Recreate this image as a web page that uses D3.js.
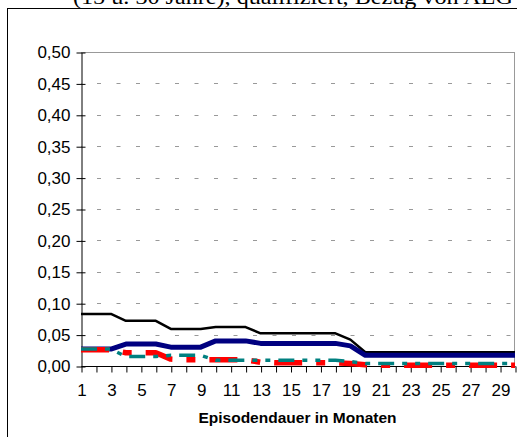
<!DOCTYPE html>
<html><head><meta charset="utf-8">
<script src="https://cdn.jsdelivr.net/npm/d3@7"></script>
<style>body{margin:0;background:#fff}svg{display:block}</style>
</head><body>
<svg id="c" width="517" height="437"></svg>
<script>
const months = d3.range(1, 31);
const xTickLabels = [1,3,5,7,9,11,13,15,17,19,21,23,25,27,29];
const yTicks = [0,0.05,0.10,0.15,0.20,0.25,0.30,0.35,0.40,0.45,0.50];
const seriesBlack = [0.083,0.083,0.083,0.072,0.072,0.072,0.059,0.059,0.059,0.062,0.062,0.062,0.052,0.052,0.052,0.052,0.052,0.052,0.042,0.022,0.022,0.022,0.022,0.022,0.022,0.022,0.022,0.022,0.022,0.022];
const seriesNavy  = [0.027,0.027,0.027,0.035,0.035,0.035,0.030,0.030,0.030,0.040,0.040,0.040,0.036,0.036,0.036,0.036,0.036,0.036,0.032,0.017,0.017,0.017,0.017,0.017,0.017,0.017,0.017,0.017,0.017,0.017];
const seriesRed   = [0.026,0.026,0.026,0.021,0.021,0.021,0.011,0.010,0.010,0.010,0.010,0.010,0.006,0.005,0.005,0.005,0.005,0.005,0.004,0.002,0.001,0.001,0.001,0.001,0.001,0.001,0.001,0.001,0.001,0.001];
const seriesTeal  = [0.027,0.027,0.027,0.015,0.015,0.015,0.017,0.017,0.017,0.009,0.009,0.009,0.009,0.009,0.009,0.009,0.009,0.009,0.007,0.004,0.004,0.004,0.004,0.004,0.004,0.004,0.004,0.004,0.004,0.004];
const titleText = "(15 u. 30 Jahre), qualifiziert, Bezug von ALG";
const xTitle = "Episodendauer in Monaten";

const svg = d3.select("#c");
const x = d3.scaleLinear().domain([1,30]).range([81,515]);
const y = d3.scaleLinear().domain([0,0.5]).range([366,52]);
const fmt = v => d3.format(".2f")(v).replace(".", ",");

// partial title and frame
svg.append("text").attr("x",73).attr("y",4).attr("font-family","Liberation Serif, Times New Roman, serif")
  .attr("font-size",20).attr("textLength",440).attr("lengthAdjust","spacingAndGlyphs").text(titleText);
svg.append("line").attr("x1",7.5).attr("x2",517).attr("y1",8.5).attr("y2",8.5).attr("stroke","#000").attr("stroke-width",1);
svg.append("line").attr("x1",7.5).attr("x2",7.5).attr("y1",8).attr("y2",437).attr("stroke","#000").attr("stroke-width",1);

// plot border (gray)
svg.append("line").attr("x1",x(1)).attr("x2",x(30)).attr("y1",y(0.5)+0.5).attr("y2",y(0.5)+0.5).attr("stroke","#999");
svg.append("line").attr("x1",x(30)-0.5).attr("x2",x(30)-0.5).attr("y1",y(0.5)).attr("y2",y(0)).attr("stroke","#999");

// gridlines
svg.append("g").selectAll("line").data(yTicks.filter(d=>d>0)).join("line")
  .attr("x1",x(1)).attr("x2",x(30)).attr("y1",d=>Math.round(y(d))+0.5).attr("y2",d=>Math.round(y(d))+0.5)
  .attr("stroke","#999").attr("stroke-width",1).attr("stroke-dasharray","4,15.5").attr("stroke-dashoffset",-16);

// axes
const yAxis = d3.axisLeft(y).tickValues(yTicks).tickFormat(fmt).tickSizeInner(5).tickSizeOuter(0).tickPadding(6);
const gy = svg.append("g").attr("transform","translate(81.5,0.5)").call(yAxis);
gy.selectAll(".tick line").attr("x2",4).attr("x1",-5);
const xAxis = d3.axisBottom(x).tickValues(months).tickFormat(d=>xTickLabels.includes(d)?d:"").tickSizeInner(6).tickSizeOuter(0).tickPadding(11);
const gx = svg.append("g").attr("transform","translate(0.5,366.5)").call(xAxis);
[gy,gx].forEach(g=>{
  g.select(".domain").attr("stroke","#000");
  g.selectAll(".tick line").attr("stroke","#000");
  g.selectAll("text").attr("font-family","Liberation Sans, Arial, sans-serif").attr("font-size",17).attr("fill","#000");
});
gx.select(".domain").attr("d",`M${x(1)},0H${x(30)}`);

svg.append("text").attr("x",297.5).attr("y",423).attr("text-anchor","middle")
  .attr("font-family","Liberation Sans, Arial, sans-serif").attr("font-size",15.5).attr("font-weight","bold").text(xTitle);

// series
const line = d3.line().x((d,i)=>x(months[i])).y(d=>y(d));
const series = [
  {vals: seriesBlack, color:"#000000", w:2.5, dash:null},
  {vals: seriesNavy, color:"#000080", w:5, dash:null},
  {vals: seriesRed, color:"#ff0000", w:5.5, dash:"28,14,9,14"},
  {vals: seriesTeal, color:"#008080", w:3.5, dash:"16,8,5,8,5,8"}
];
svg.append("g").selectAll("path").data(series).join("path")
  .attr("d",d=>line(d.vals)).attr("fill","none").attr("stroke",d=>d.color)
  .attr("stroke-width",d=>d.w).attr("stroke-dasharray",d=>d.dash).attr("stroke-linejoin","round");
</script>
</body></html>
